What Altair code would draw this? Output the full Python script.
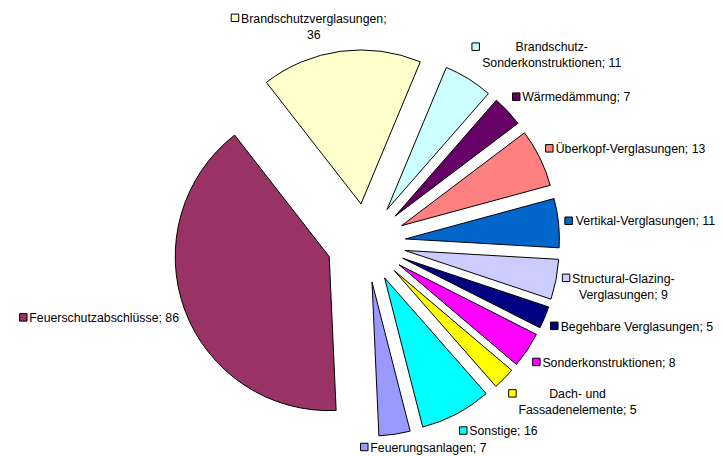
import altair as alt
import pandas as pd

# ---- data -------------------------------------------------------------
categories = [
    "Brandschutzverglasungen", "Brandschutz-Sonderkonstruktionen", "Wärmedämmung",
    "Überkopf-Verglasungen", "Vertikal-Verglasungen", "Structural-Glazing-Verglasungen",
    "Begehbare Verglasungen", "Sonderkonstruktionen", "Dach- und Fassadenelemente",
    "Sonstige", "Feuerungsanlagen", "Feuerschutzabschlüsse",
]
values = [36, 11, 7, 13, 11, 9, 5, 8, 5, 16, 7, 86]
labels = [
    "Brandschutzverglasungen;\n36", "Brandschutz-\nSonderkonstruktionen; 11", "Wärmedämmung; 7",
    "Überkopf-Verglasungen; 13", "Vertikal-Verglasungen; 11", "Structural-Glazing-\nVerglasungen; 9",
    "Begehbare Verglasungen; 5", "Sonderkonstruktionen; 8", "Dach- und\nFassadenelemente; 5",
    "Sonstige; 16", "Feuerungsanlagen; 7", "Feuerschutzabschlüsse; 86",
]
colors = [
    "#FFFFCC", "#CCFFFF", "#660066", "#FF8080", "#0066CC", "#CCCCFF",
    "#000080", "#FF00FF", "#FFFF00", "#00FFFF", "#9999FF", "#993366",
]

# ---- layout constants ------------------------------------------------
W, H = 707, 448
CX, CY = 358.2, 235.0      # pie centre (plot px)
R = 154                    # radius
D = 39.4                   # explosion distance
RLX, RLY = 199.5, 203      # label anchor radii
START = -0.6615            # angle of first slice (rad, clockwise from 12 o'clock)
FS = 12.3
LH = 16
KEYW = 10
FONT = "Liberation Sans"

# Arial-compatible advance widths (per 1000 em) to size the label boxes
_w = {" ": 278, ";": 278, "-": 333, "f": 278, "i": 222, "j": 222, "l": 222, "r": 333,
      "t": 278, "c": 500, "k": 500, "s": 500, "v": 500, "x": 500, "y": 500, "z": 500,
      "m": 833, "w": 722, "B": 667, "S": 667, "V": 667, "F": 611, "G": 778, "D": 722,
      "W": 944, "Ü": 722}


def text_width(s):
    return max(sum(_w.get(ch, 556) for ch in line) for line in s.split("\n")) * FS / 1000


df = pd.DataFrame({
    "order": list(range(len(categories))),
    "cat": categories,
    "value": values,
    "label": labels,
    "tw": [text_width(s) for s in labels],
    "nl": [s.count("\n") + 1 for s in labels],
})

base = (
    alt.Chart(df)
    .transform_window(cum="sum(value)", sort=[alt.SortField("order")], frame=[None, 0])
    .transform_joinaggregate(total="sum(value)")
    .transform_calculate(t0=f"{START} + 2*PI*(datum.cum - datum.value)/datum.total")
    .transform_calculate(t1=f"{START} + 2*PI*datum.cum/datum.total")
    .transform_calculate(mid="(datum.t0 + datum.t1)/2")
    .transform_calculate(cx=f"{CX} + {D}*sin(datum.mid)")
    .transform_calculate(cy=f"{CY} - {D}*cos(datum.mid)")
    .transform_calculate(ax=f"{CX} + {RLX}*sin(datum.mid)")
    .transform_calculate(ay=f"{CY} - {RLY}*cos(datum.mid)")
    .transform_calculate(fx="clamp(3*sin(datum.mid), -1, 1)")
    .transform_calculate(fy="clamp(-1.5*cos(datum.mid), -1, 1)")
    .transform_calculate(bw=f"datum.tw + {KEYW}")
    .transform_calculate(bh=f"datum.nl * {LH}")
    .transform_calculate(bl="datum.ax + (datum.fx - 1)*datum.bw/2")
    # keep each label box inside the chart area (as the spreadsheet does)
    .transform_calculate(bt=f"min(datum.ay + (datum.fy - 1)*datum.bh/2, {H} - datum.bh - 1)")
    .transform_calculate(tx=f"datum.bl + {KEYW} + datum.tw/2")
    .transform_calculate(ty=f"datum.bt + {LH}/2 - {0.43 * FS}")
    .transform_calculate(kx="datum.bl + 4")
    .transform_calculate(ky=f"datum.bt + {LH}/2")
)

xs = alt.Scale(domain=[0, W], nice=False, zero=False)
ys = alt.Scale(domain=[0, H], nice=False, zero=False, reverse=True)
col = alt.Color("cat:N", scale=alt.Scale(domain=categories, range=colors), legend=None)

arcs = base.mark_arc(radius=R, stroke="black", strokeWidth=1).encode(
    x=alt.X("cx:Q", scale=xs, axis=None),
    y=alt.Y("cy:Q", scale=ys, axis=None),
    theta=alt.Theta("t0:Q", scale=None),
    theta2=alt.Theta2("t1:Q"),
    color=col,
)

keys = base.mark_square(size=56, filled=True, opacity=1, stroke="black", strokeWidth=1).encode(
    x=alt.X("kx:Q", scale=xs, axis=None),
    y=alt.Y("ky:Q", scale=ys, axis=None),
    color=col,
)

texts = base.mark_text(
    align="center", baseline="top", fontSize=FS, font=FONT, lineHeight=LH,
    lineBreak="\n", color="black",
).encode(
    x=alt.X("tx:Q", scale=xs, axis=None),
    y=alt.Y("ty:Q", scale=ys, axis=None),
    text="label:N",
)

chart = (
    alt.layer(arcs, keys, texts)
    .properties(width=W, height=H, padding=0, autosize=alt.AutoSizeParams(type="none"),
                background="white")
    .configure_view(stroke=None)
)

chart.save("out.html", embed_options={"renderer": "svg", "actions": False})
